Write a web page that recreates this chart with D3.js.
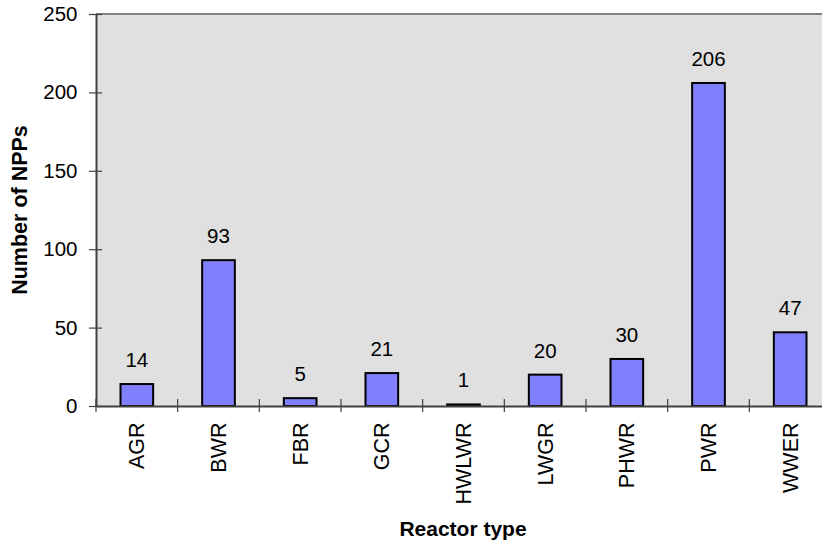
<!DOCTYPE html>
<html>
<head>
<meta charset="utf-8">
<script src="https://cdn.jsdelivr.net/npm/d3@7"></script>
<style>
  html, body { margin: 0; padding: 0; background: #fff; overflow: hidden; }
  svg { display: block; font-family: "Liberation Sans", Arial, sans-serif; }
</style>
</head>
<body>
<svg id="chart" width="822" height="544"></svg>
<script>
// Number of nuclear power plants by reactor type
const reactorTypes = ["AGR", "BWR", "FBR", "GCR", "HWLWR", "LWGR", "PHWR", "PWR", "WWER"];
const plantCounts  = [14, 93, 5, 21, 1, 20, 30, 206, 47];
const yTicks       = [0, 50, 100, 150, 200, 250];

const svg = d3.select("#chart");
const plot = { left: 96, top: 14, bottom: 406, right: 831 };

const x = d3.scaleBand()
  .domain(reactorTypes)
  .range([plot.left, plot.right])
  .paddingInner(0).paddingOuter(0);

const y = d3.scaleLinear()
  .domain([0, 250])
  .range([plot.bottom, plot.top]);

// plot background
svg.append("rect")
  .attr("x", plot.left).attr("y", plot.top)
  .attr("width", plot.right - plot.left).attr("height", plot.bottom - plot.top)
  .attr("fill", "#e0e0e0");

// top border of the plot area
svg.append("line")
  .attr("x1", plot.left).attr("x2", plot.right)
  .attr("y1", plot.top).attr("y2", plot.top)
  .attr("stroke", "#808080").attr("stroke-width", 2);

// bars
const barW = x.bandwidth() * 0.4;
svg.append("g").selectAll("rect")
  .data(reactorTypes)
  .join("rect")
  .attr("x", (d) => x(d) + (x.bandwidth() - barW) / 2)
  .attr("y", (d, i) => y(plantCounts[i]))
  .attr("width", barW)
  .attr("height", (d, i) => y(0) - y(plantCounts[i]))
  .attr("fill", "#8080ff")
  .attr("stroke", "#000")
  .attr("stroke-width", 2);

// value labels
svg.append("g").selectAll("text")
  .data(reactorTypes)
  .join("text")
  .attr("x", (d) => x(d) + x.bandwidth() / 2)
  .attr("y", (d, i) => y(plantCounts[i]) - 17)
  .attr("text-anchor", "middle")
  .attr("font-size", 20.5)
  .attr("fill", "#000")
  .text((d, i) => plantCounts[i]);

// y axis with crossing ticks
const yAxis = d3.axisLeft(y).tickValues(yTicks).tickSize(7).tickPadding(11.5).tickSizeOuter(0);
const gy = svg.append("g").attr("transform", `translate(${plot.left},0)`).call(yAxis);
gy.select(".domain").attr("stroke", "#404040").attr("stroke-width", 2);
gy.selectAll(".tick line").attr("x1", 6).attr("x2", -7).attr("stroke", "#404040").attr("stroke-width", 1.2);
gy.selectAll(".tick text").attr("font-size", 20.5).attr("fill", "#000")
  .attr("font-family", "Liberation Sans, Arial, sans-serif");

// x axis: ticks sit on category boundaries
const xAxis = d3.axisBottom(x).tickSize(0).tickPadding(0).tickSizeOuter(0);
const gx = svg.append("g").attr("transform", `translate(0,${plot.bottom})`).call(xAxis);
gx.select(".domain").attr("stroke", "#404040").attr("stroke-width", 2);
gx.selectAll(".tick line").remove();
gx.selectAll(".tick text")
  .attr("font-size", 21.5).attr("fill", "#000")
  .attr("font-family", "Liberation Sans, Arial, sans-serif")
  .attr("text-anchor", "end")
  .attr("dy", null)
  .attr("transform", "translate(7.5,16.5) rotate(-90)");

const boundaries = reactorTypes.map((d) => x(d));
svg.append("g").selectAll("line")
  .data(boundaries)
  .join("line")
  .attr("x1", (d) => d).attr("x2", (d) => d)
  .attr("y1", plot.bottom - 7).attr("y2", plot.bottom + 6)
  .attr("stroke", "#404040").attr("stroke-width", 1.2);

// axis titles
svg.append("text")
  .attr("x", 463).attr("y", 536)
  .attr("text-anchor", "middle")
  .attr("font-size", 21).attr("font-weight", "bold")
  .text("Reactor type");

svg.append("text")
  .attr("transform", "translate(27,210) rotate(-90)")
  .attr("text-anchor", "middle")
  .attr("font-size", 21.5).attr("font-weight", "bold")
  .text("Number of NPPs");
</script>
</body>
</html>
